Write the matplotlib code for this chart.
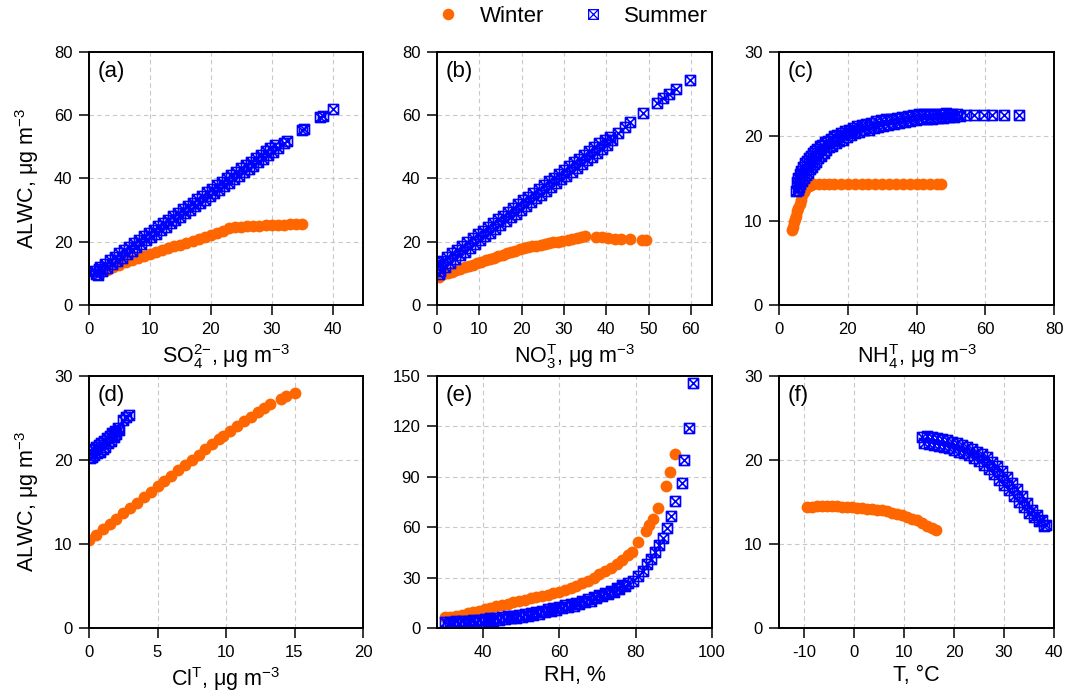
import matplotlib
matplotlib.use("Agg")
import matplotlib.pyplot as plt
from matplotlib.path import Path
from matplotlib.lines import Line2D

plt.rcParams["font.family"] = ["Liberation Sans", "DejaVu Sans"]
plt.rcParams["mathtext.fontset"] = "custom"
plt.rcParams["mathtext.rm"] = "Liberation Sans"
plt.rcParams["mathtext.it"] = "Liberation Sans:italic"
plt.rcParams["axes.unicode_minus"] = False

# ---- data ----
# (a) SO4
wa_x = [2, 3, 4, 5, 6, 7, 8, 9, 10, 11, 12, 13, 14, 15, 16, 17, 18, 19, 20, 21, 22, 23,
        24, 25, 26, 27, 28, 29, 30, 31, 32, 33, 34, 35]
wa_y = [10.3, 11.2, 12.0, 12.8, 13.5, 14.2, 14.9, 15.5, 16.1, 16.7, 17.3, 17.9, 18.5, 19.0,
        19.6, 20.2, 20.8, 21.4, 22.0, 22.7, 23.4, 24.2, 24.6, 24.8, 25.0, 25.0, 25.1, 25.2,
        25.2, 25.3, 25.4, 25.5, 25.6, 25.7]
sa_x = [1.0, 1.2, 1.4, 1.6, 1.8, 2.2, 2.6, 3.0, 3.4, 3.8, 4.2, 4.6, 5.0, 5.4, 5.8, 6.2, 6.6,
        7.0, 7.4, 7.8, 8.2, 8.6, 9.0, 9.4, 9.8, 10.2, 10.6, 11.0, 11.4, 11.8, 12.2, 12.6,
        13.0, 13.4, 13.8, 14.2, 14.6, 15.0, 15.4, 15.8, 16.2, 16.6, 17.0, 17.4, 17.8, 18.2,
        18.6, 19.0, 19.4, 19.8, 20.2, 20.6, 21.0, 21.4, 21.8, 22.2, 22.6, 23.0, 23.4, 23.8,
        24.2, 24.6, 25.0, 25.4, 25.8, 26.2, 26.6, 27.0, 27.4, 27.8, 28.2, 28.6, 29.0, 29.4,
        29.8, 30.2, 30.6, 31.0,
        32.0, 32.5, 35.0, 35.3, 38.0, 38.4, 40.1]
sa_y = [10.9, 9.8, 9.6, 11.3, 12.0, 10.7, 13.1, 11.8, 14.1, 12.9, 15.2, 13.9, 16.3, 15.0,
        17.4, 16.1, 18.4, 17.2, 19.5, 18.2, 20.6, 19.3, 21.7, 20.4, 22.7, 21.5, 23.8, 22.5,
        24.9, 23.6, 26.0, 24.7, 27.0, 25.8, 28.1, 26.9, 29.2, 27.9, 30.3, 29.0, 31.3, 30.1,
        32.4, 31.2, 33.5, 32.2, 34.6, 33.3, 35.6, 34.4, 36.7, 35.5, 37.8, 36.5, 38.9, 37.6,
        40.0, 38.7, 41.0, 39.8, 42.1, 40.8, 43.2, 41.9, 44.3, 43.0, 45.3, 44.1, 46.4, 45.1,
        47.5, 46.2, 48.6, 47.3, 49.6, 48.4, 50.5, 49.6,
        51.3, 52.0, 55.3, 55.8, 59.3, 59.7, 62.0]

# (b) NO3
wb_x = [0.5, 1.5, 2.5, 3.5, 4.5, 5.5, 6.5, 7.5, 8.5, 9.5, 10.5, 11.5, 12.5, 13.5, 14.5,
        15.5, 16.5, 17.5, 18.5, 19.5, 20.5, 21.5, 22.5, 23.5, 24.5, 25.5, 26.5, 27.5, 28.5,
        29.5, 31, 32, 33, 34, 35, 37.5, 39, 40.5, 42, 43.5, 45.5, 48.5, 49.5]
wb_y = [9.0, 9.7, 10.1, 10.5, 11.0, 11.4, 11.9, 12.3, 12.7, 13.2, 13.6, 14.1, 14.5, 14.9,
        15.4, 15.8, 16.3, 16.7, 17.1, 17.6, 17.9, 18.2, 18.5, 18.8, 19.0, 19.3, 19.5, 19.8,
        20.0, 20.3, 20.7, 21.0, 21.3, 21.5, 21.7, 21.5, 21.4, 21.2, 21.0, 20.9, 20.8, 20.7,
        20.7]
sb_x = [0.3, 0.5, 0.0, 0.6, 1.2, 1.8, 2.4, 3.0, 3.6, 4.2, 4.8, 5.4, 6.0, 6.6, 7.2, 7.8, 8.4,
        9.0, 9.6, 10.2, 10.8, 11.4, 12.0, 12.6, 13.2, 13.8, 14.4, 15.0, 15.6, 16.2, 16.8,
        17.4, 18.0, 18.6, 19.2, 19.8, 20.4, 21.0, 21.6, 22.2, 22.8, 23.4, 24.0, 24.6, 25.2,
        25.8, 26.4, 27.0, 27.6, 28.2, 28.8, 29.4, 30.0, 30.6, 31.2, 31.8, 32.4, 33.0, 33.6,
        34.2, 34.8, 35.4, 36.0, 36.6, 37.2, 37.8, 38.4, 39.0, 39.6, 40.2, 40.8, 41.4,
        42.8, 44.4, 45.7, 48.6, 52.1, 53.5, 54.9, 56.6, 59.8]
sb_y = [13.5, 9.8, 12.7, 10.9, 13.9, 12.1, 15.1, 13.3, 16.3, 14.5, 17.5, 15.7, 18.7, 16.9,
        19.9, 18.1, 21.1, 19.3, 22.3, 20.5, 23.5, 21.7, 24.7, 22.9, 25.9, 24.1, 27.1, 25.3,
        28.3, 26.5, 29.5, 27.7, 30.7, 28.9, 31.9, 30.1, 33.1, 31.3, 34.3, 32.5, 35.5, 33.7,
        36.7, 34.9, 37.9, 36.1, 39.1, 37.3, 40.3, 38.5, 41.5, 39.7, 42.7, 40.9, 43.9, 42.1,
        45.1, 43.3, 46.3, 44.5, 47.5, 45.7, 48.7, 46.9, 49.9, 48.1, 51.1, 49.3, 52.3, 50.5,
        53.2, 52.1,
        54.3, 56.4, 58.0, 60.8, 64.0, 65.4, 66.6, 68.2, 71.1]

# (c) NH4
wc_x = [3.9, 4.1, 4.4, 4.7, 5.0, 5.3, 5.6, 6.0, 6.4, 6.8, 7.2, 7.6, 8.0, 8.6, 9.3, 10, 11.5,
        13, 14.5, 16, 18, 20, 22, 24, 26, 28, 30, 32, 34, 36, 38, 40, 42, 44, 46, 47]
wc_y = [8.9, 9.3, 9.8, 10.2, 10.6, 11.1, 11.5, 12.0, 12.5, 13.0, 13.4, 13.8, 14.0, 14.1,
        14.2, 14.3, 14.3, 14.3, 14.4, 14.4, 14.4, 14.4, 14.4, 14.4, 14.4, 14.4, 14.4, 14.4,
        14.4, 14.4, 14.4, 14.4, 14.4, 14.4, 14.4, 14.4]
sc_x = [5.0, 5.2, 5.4, 5.6, 5.8, 6.0, 6.25, 6.5, 6.75, 7.0, 7.25, 7.5, 7.75, 8.0, 8.3, 8.6,
        8.9, 9.2, 9.5, 9.8, 10.1, 10.4, 10.7, 11.0, 11.4, 11.8, 12.2, 12.6, 13.0, 13.4, 13.8,
        14.2, 14.6, 15.0, 15.5, 16.0, 16.5, 17.0, 17.5, 18.0, 18.6, 19.2, 19.8, 20.4, 21.0,
        21.6, 22.2, 22.8, 23.4, 24.0, 24.7, 25.4, 26.1, 26.8, 27.5, 28.2, 28.9, 29.6, 30.3,
        31.0, 31.8, 32.6, 33.4, 34.2, 35.0, 35.8, 36.6, 37.4, 38.2, 39.0, 39.8, 40.6, 41.4,
        42.2, 43.0, 43.8, 44.6, 45.4, 46.2, 47.0, 47.8, 48.6, 49.4, 50.2, 51.0, 51.8, 52.6,
        54.3, 56.7, 59.6, 62.0, 65.5, 69.8]
sc_y = [13.5, 14.6, 13.6, 15.0, 14.0, 15.5, 14.3, 15.9, 14.7, 16.4, 15.0, 16.8, 15.4, 17.1,
        15.7, 17.4, 16.1, 17.7, 16.4, 18.0, 16.7, 18.3, 17.0, 18.5, 17.4, 18.8, 17.7, 19.0,
        18.0, 19.3, 18.4, 19.5, 18.7, 19.7, 18.9, 20.0, 19.2, 20.2, 19.4, 20.4, 19.6, 20.6,
        19.9, 20.8, 20.1, 21.0, 20.4, 21.2, 20.5, 21.3, 20.7, 21.5, 20.8, 21.6, 21.0, 21.8,
        21.1, 21.9, 21.2, 22.0, 21.4, 22.1, 21.5, 22.2, 21.6, 22.3, 21.7, 22.4, 21.8, 22.5,
        21.9, 22.6, 22.0, 22.6, 22.0, 22.7, 22.1, 22.7, 22.2, 22.7, 22.2, 22.8, 22.3, 22.7,
        22.3, 22.7, 22.4,
        22.5, 22.5, 22.5, 22.5, 22.5, 22.5]

# (d) Cl
wd_x = [0, 0.5, 1, 1.5, 2, 2.5, 3, 3.5, 4, 4.5, 5, 5.5, 6, 6.5, 7, 7.5, 8, 8.5, 9, 9.5, 9.8,
        10.3, 10.8, 11.3, 11.8, 12.3, 12.8, 13.2, 14.0, 14.4, 15.05]
wd_y = [10.5, 11.1, 11.8, 12.4, 13.0, 13.7, 14.3, 14.9, 15.6, 16.2, 16.9, 17.5, 18.1, 18.8,
        19.4, 20.0, 20.6, 21.3, 21.9, 22.5, 22.8, 23.5, 24.0, 24.6, 25.1, 25.7, 26.2, 26.7,
        27.3, 27.6, 28.0]
sd_x = [0.05, 0.1, 0.2, 0.3, 0.4, 0.5, 0.6, 0.7, 0.8, 0.9, 1.0, 1.1, 1.2, 1.3, 1.4, 1.5,
        1.6, 1.7, 1.8, 1.9, 2.0, 2.1, 2.2, 2.5, 2.7, 2.9]
sd_y = [20.2, 21.2, 20.4, 21.3, 20.6, 21.5, 20.8, 21.8, 21.0, 22.0, 21.3, 22.3, 21.6, 22.6,
        22.0, 22.9, 22.3, 23.2, 22.7, 23.5, 23.1, 23.8, 23.6, 24.8, 25.1, 25.4]

# (e) RH
we_x = [30, 31.5, 33, 34.5, 36, 37.5, 39, 40.5, 42, 43.5, 45, 46.5, 48, 49.5, 51, 52.5, 54,
        55.5, 57, 58.5, 60, 61.5, 63, 64.5, 66, 67.5, 69, 70.5, 72, 73.5, 75, 76.5, 78, 79,
        80.7, 82.8, 83.6, 84.5, 85.9, 87.9, 89.0, 90.2]
we_y = [6.3, 6.8, 7.4, 8.0, 8.7, 9.4, 10.3, 11.2, 12.0, 12.8, 13.5, 14.3, 15.3, 16.2, 16.9,
        17.6, 18.4, 19.1, 19.9, 20.7, 21.5, 22.5, 23.7, 24.8, 26.5, 28.0, 30.0, 32.0, 34.0,
        36.0, 38.0, 40.5, 43.2, 45.0, 50.9, 57.8, 61.3, 65.0, 71.2, 84.8, 92.9, 103.6]
se_x = [30.0, 30.75, 31.5, 32.25, 33.0, 33.75, 34.5, 35.25, 36.0, 36.75, 37.5, 38.25, 39.0,
        39.75, 40.5, 41.25, 42.0, 42.75, 43.5, 44.25, 45.0, 45.75, 46.5, 47.25, 48.0, 48.75,
        49.5, 50.25, 51.0, 51.75, 52.5, 53.25, 54.0, 54.75, 55.5, 56.25, 57.0, 57.75, 58.5,
        59.25, 60.0, 60.75, 61.5, 62.25, 63.0, 63.75, 64.5, 65.25, 66.0, 66.75, 67.5, 68.25,
        69.0, 69.75, 70.5, 71.25, 72.0, 72.75, 73.5, 74.25, 75.0, 75.75, 76.5, 77.25, 78.0,
        79.4, 80.7, 82.0, 83.0, 83.9, 85.1, 86.2, 87.3, 88.3, 89.2, 90.4, 92.1, 92.7, 94.0,
        95.1]
se_y = [3.6, 2.4, 3.8, 2.6, 4.0, 2.8, 4.2, 2.9, 4.4, 3.1, 4.7, 3.4, 5.0, 3.7, 5.3, 4.0, 5.7,
        4.4, 6.1, 4.8, 6.5, 5.2, 6.9, 5.7, 7.4, 6.2, 7.9, 6.8, 8.5, 7.4, 9.1, 8.0, 9.7, 8.6,
        10.4, 9.3, 11.1, 10.1, 11.9, 10.9, 12.7, 11.7, 13.5, 12.5, 14.3, 13.3, 15.1, 14.3,
        16.2, 15.3, 17.2, 16.3, 18.3, 17.6, 19.6, 18.8, 20.8, 20.1, 22.1, 21.5, 23.7, 23.1,
        25.3, 24.8, 27.0,
        28.2, 31.2, 34.1, 38.0, 41.0, 45.0, 49.3, 53.8, 59.8, 66.7, 75.5, 86.4, 100.2, 118.9,
        146.0]

# (f) T
wf_x = [-9.5, -8.5, -7.5, -6.5, -5.5, -4.5, -3.5, -2.5, -1.5, -0.5, 0.5, 1.5, 2.5, 3.5, 4.5,
        5.5, 6.5, 7.5, 8.5, 9.5, 10.5, 11.5, 12.5, 13.5, 14.5, 15.5, 16.3]
wf_y = [14.4, 14.4, 14.5, 14.5, 14.5, 14.5, 14.5, 14.4, 14.4, 14.4, 14.3, 14.3, 14.2, 14.2,
        14.1, 14.0, 13.9, 13.7, 13.6, 13.4, 13.2, 13.0, 12.8, 12.5, 12.2, 11.9, 11.7]
sf_x = [13.5, 14.0, 14.5, 15.0, 15.5, 16.0, 16.5, 17.0, 17.5, 18.0, 18.5, 19.0, 19.5, 20.0,
        20.5, 21.0, 21.5, 22.0, 22.5, 23.0, 23.5, 24.0, 24.5, 25.0, 25.5, 26.0, 26.5, 27.0,
        27.5, 28.0, 28.5, 29.0, 29.5, 30.0, 30.5, 31.0, 31.5, 32.0, 32.5, 33.0, 33.5, 34.0,
        34.5, 35.0, 35.5, 36.0, 36.5, 37.0, 37.5, 38.0, 38.3]
sf_y = [22.7, 22.0, 22.8, 21.9, 22.7, 21.8, 22.6, 21.7, 22.5, 21.6, 22.4, 21.4, 22.2, 21.2,
        22.0, 21.0, 21.8, 20.8, 21.6, 20.6, 21.3, 20.2, 21.0, 19.9, 20.7, 19.4, 20.3, 18.9,
        19.8, 18.3, 19.3, 17.6, 18.7, 17.0, 18.0, 16.4, 17.3, 15.7, 16.5, 15.0, 15.7, 14.4,
        14.9, 13.7, 14.1, 13.2, 13.4, 12.7, 12.8, 12.2, 12.3]

panels = [
    ("(a)", wa_x, wa_y, sa_x, sa_y, (0, 45), [0, 10, 20, 30, 40], (0, 80), [0, 20, 40, 60, 80],
     r"SO$_4^{2\mathrm{-}}$, μg m$^{-3}$"),
    ("(b)", wb_x, wb_y, sb_x, sb_y, (0, 65), [0, 10, 20, 30, 40, 50, 60], (0, 80),
     [0, 20, 40, 60, 80], r"NO$_3^\mathrm{T}$, μg m$^{-3}$"),
    ("(c)", wc_x, wc_y, sc_x, sc_y, (0, 80), [0, 20, 40, 60, 80], (0, 30), [0, 10, 20, 30],
     r"NH$_4^\mathrm{T}$, μg m$^{-3}$"),
    ("(d)", wd_x, wd_y, sd_x, sd_y, (0, 20), [0, 5, 10, 15, 20], (0, 30), [0, 10, 20, 30],
     r"Cl$^\mathrm{T}$, μg m$^{-3}$"),
    ("(e)", we_x, we_y, se_x, se_y, (28, 100), [40, 60, 80, 100], (0, 150),
     [0, 30, 60, 90, 120, 150], "RH, %"),
    ("(f)", wf_x, wf_y, sf_x, sf_y, (-15, 40), [-10, 0, 10, 20, 30, 40], (0, 30),
     [0, 10, 20, 30], "T, °C"),
]

WIN = "#ff6600"
SUM = "#0000ff"
# square with a cross inside
box_x = Path([(-1, -1), (1, -1), (1, 1), (-1, 1), (-1, -1), (-1, -1), (1, 1), (-1, 1), (1, -1)],
             [Path.MOVETO, Path.LINETO, Path.LINETO, Path.LINETO, Path.CLOSEPOLY,
              Path.MOVETO, Path.LINETO, Path.MOVETO, Path.LINETO])

W, H = 1070, 697
fig = plt.figure(figsize=(W / 100, H / 100), dpi=100)
lefts = [89, 437, 779]
widths = [274, 275, 275]
rows = [(52, 305), (376, 628)]

for i, (lab, wx, wy, sx, sy, xl, xt, yl, yt, xlab) in enumerate(panels):
    r, c = divmod(i, 3)
    top, bot = rows[r]
    ax = fig.add_axes([lefts[c] / W, 1 - bot / H, widths[c] / W, (bot - top) / H])
    ax.grid(True, color="#c8c8c8", linestyle=(0, (4, 3)), linewidth=0.8)
    ax.set_axisbelow(True)
    ax.plot(wx, wy, ls="none", marker="o", ms=8.5, mfc=WIN, mec=WIN, mew=0)
    ax.plot(sx, sy, ls="none", marker=box_x, ms=7.2, mfc="none", mec=SUM, mew=1.2)
    ax.set_xlim(*xl)
    ax.set_ylim(*yl)
    ax.set_xticks(xt)
    ax.set_yticks(yt)
    ax.tick_params(direction="out", length=7, width=1.1, labelsize=12, pad=5)
    for s in ax.spines.values():
        s.set_linewidth(1.4)
    ax.set_xlabel(xlab, fontsize=15.5, labelpad=4)
    if c == 0:
        ax.set_ylabel(r"ALWC, μg m$^{-3}$", fontsize=15.5, labelpad=9)
    ax.text(0.03, 0.965, lab, transform=ax.transAxes, fontsize=16, va="top", ha="left")

handles = [
    Line2D([], [], ls="none", marker="o", ms=8.3, mfc=WIN, mec=WIN, mew=0),
    Line2D([], [], ls="none", marker=box_x, ms=7, mfc="none", mec=SUM, mew=0.9),
]
fig.legend(handles, ["Winter", "Summer"], loc="center", bbox_to_anchor=(0.53, 0.976),
           ncol=2, frameon=False, fontsize=16, handletextpad=0.4, columnspacing=1.2)

fig.savefig("out.png", dpi=100)
